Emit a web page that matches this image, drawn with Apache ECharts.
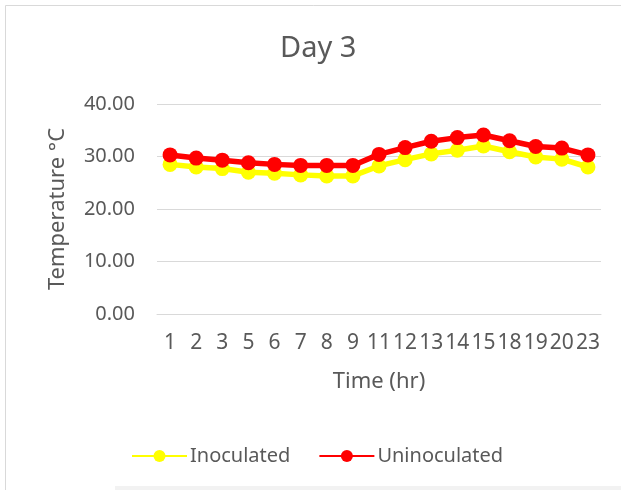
<!DOCTYPE html>
<html>
<head>
<meta charset="utf-8">
<script src="https://cdn.jsdelivr.net/npm/echarts@6/dist/echarts.min.js"></script>
<style>
  html, body { margin: 0; padding: 0; background: #fff; }
  #chart { width: 621px; height: 490px; }
</style>
</head>
<body>
<div id="chart"></div>
<script>
// Hours of the day that were sampled
const hours = ['1', '2', '3', '5', '6', '7', '8', '9', '11', '12', '13', '14', '15', '18', '19', '20', '23'];
// Mean temperature (°C) per hour
const inoculated = [28.5, 28.0, 27.7, 27.0, 26.8, 26.5, 26.3, 26.3, 28.2, 29.4, 30.5, 31.2, 32.0, 30.9, 29.9, 29.5, 28.0];
const uninoculated = [30.3, 29.7, 29.3, 28.8, 28.5, 28.3, 28.3, 28.3, 30.4, 31.7, 32.9, 33.6, 34.1, 33.0, 31.9, 31.6, 30.3];
const yTicks = { min: 0, max: 40, step: 10 };

const FONT = 'Noto Sans';
const TEXT = '#595959';

const chart = echarts.init(document.getElementById('chart'), null, { renderer: 'canvas' });

chart.setOption({
  backgroundColor: '#ffffff',
  animation: false,
  graphic: [
    {
      type: 'rect',
      shape: { x: 5.5, y: 5.5, width: 660, height: 540 },
      style: { fill: 'none', stroke: '#d9d9d9', lineWidth: 1 },
      silent: true
    },
    {
      type: 'rect',
      shape: { x: 115, y: 486, width: 506, height: 4 },
      style: { fill: '#f2f2f2' },
      silent: true
    }
  ],
  title: {
    text: 'Day 3',
    left: 275,
    top: 29,
    textStyle: { fontFamily: FONT, fontSize: 29, fontWeight: 'normal', color: TEXT }
  },
  legend: {
    top: 441,
    left: 126,
    itemWidth: 55,
    itemHeight: 15,
    itemGap: 28,
    textStyle: { fontFamily: FONT, fontSize: 20, color: TEXT, padding: [0, 0, 0, -2] },
    data: ['Inoculated', 'Uninoculated']
  },
  grid: { left: 157, right: 20, top: 104, bottom: 176, containLabel: false },
  xAxis: {
    type: 'category',
    data: hours,
    boundaryGap: true,
    name: 'Time (hr)',
    nameLocation: 'middle',
    nameGap: 57,
    nameTextStyle: { fontFamily: FONT, fontSize: 22, color: TEXT },
    axisLine: { lineStyle: { color: '#d9d9d9', width: 1 } },
    axisTick: { show: false },
    axisLabel: { fontFamily: FONT, fontSize: 21, color: TEXT, margin: 19, interval: 0 }
  },
  yAxis: {
    type: 'value',
    min: yTicks.min,
    max: yTicks.max,
    interval: yTicks.step,
    name: 'Temperature °C',
    nameLocation: 'middle',
    nameGap: 88,
    nameTextStyle: { fontFamily: FONT, fontSize: 22, color: TEXT },
    axisLine: { show: false },
    axisTick: { show: false },
    axisLabel: {
      fontFamily: FONT, fontSize: 20, color: TEXT, margin: 22,
      formatter: v => v.toFixed(2)
    },
    splitLine: { lineStyle: { color: '#d9d9d9', width: 1 } }
  },
  series: [
    {
      name: 'Inoculated',
      type: 'line',
      data: inoculated,
      symbol: 'circle',
      symbolSize: 15,
      itemStyle: { color: '#ffff00' },
      lineStyle: { color: '#ffff00', width: 5.5 },
      z: 2
    },
    {
      name: 'Uninoculated',
      type: 'line',
      data: uninoculated,
      symbol: 'circle',
      symbolSize: 15,
      itemStyle: { color: '#ff0000' },
      lineStyle: { color: '#ff0000', width: 5.5 },
      z: 3
    }
  ]
});
</script>
</body>
</html>
